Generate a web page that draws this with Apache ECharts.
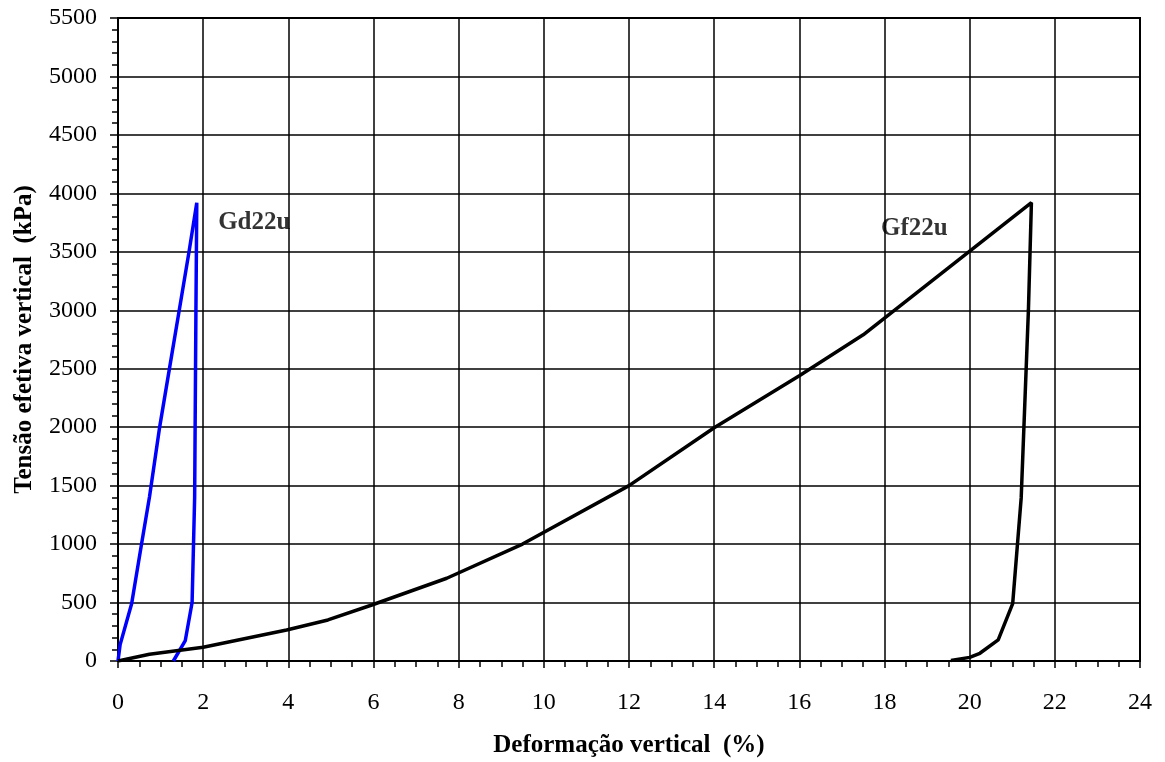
<!DOCTYPE html>
<html>
<head>
<meta charset="utf-8">
<script src="https://cdn.jsdelivr.net/npm/echarts@6/dist/echarts.min.js"></script>
<style>
  html, body { margin: 0; padding: 0; background: #fff; }
  #chart { width: 1165px; height: 762px; }
</style>
</head>
<body>
<div id="chart"></div>
<script>
// Oedometer curves: vertical strain (%) vs. vertical effective stress (kPa)
const gd22uStrain = [0, 0.05, 0.32, 0.55, 0.74, 0.98, 1.21, 1.44, 1.67, 1.85, 1.83, 1.80, 1.74, 1.58, 1.30];
const gd22uStress = [0, 140, 490, 995, 1405, 2005, 2505, 3005, 3505, 3920, 3000, 1400, 500, 175, 0];

const gf22uStrain = [0, 0.74, 2.0, 3.96, 4.93, 5.96, 7.72, 9.5, 12.0, 14.0, 16.0, 17.5, 21.45, 21.38, 21.21, 21.01, 20.67, 20.24, 20.0, 19.56];
const gf22uStress = [0, 57, 117, 265, 351, 479, 708, 1000, 1500, 1995, 2440, 2790, 3920, 3005, 1395, 490, 180, 66, 31, 5];

const seriesNames = ['Gd22u', 'Gf22u'];
const xTitle = 'Deformação vertical  (%)';
const yTitle = 'Tensão efetiva vertical  (kPa)';

function pairs(xs, ys) { return xs.map((x, i) => [x, ys[i]]); }

const serif = '"Liberation Serif", "DejaVu Serif", serif';
const chart = echarts.init(document.getElementById('chart'));

// curve names placed beside the peaks
const nameLabel = {
  show: true, position: 'inside',
  fontFamily: serif, fontWeight: 'bold', fontSize: 25, color: '#000'
};

chart.setOption({
  animation: false,
  backgroundColor: '#fff',
  grid: {
    left: 118, top: 18, right: 25, bottom: 101,
    containLabel: false, outerBoundsMode: 'none',
    show: true, borderColor: '#000', borderWidth: 2
  },
  xAxis: {
    type: 'value', min: 0, max: 24, interval: 2,
    name: xTitle, nameLocation: 'middle', nameGap: 72,
    nameTextStyle: { fontFamily: serif, fontWeight: 'bold', fontSize: 25, color: '#000' },
    axisLine: { show: true, onZero: false, lineStyle: { color: '#000', width: 2 } },
    axisTick: { show: true, inside: false, length: 7, lineStyle: { color: '#000', width: 1.5 } },
    minorTick: { show: true, splitNumber: 4, length: 6, lineStyle: { color: '#000', width: 1.5 } },
    axisLabel: { fontFamily: serif, fontSize: 24, color: '#000', margin: 30, formatter: v => String(v) },
    splitLine: { show: true, lineStyle: { color: '#000', width: 1.5 } }
  },
  yAxis: {
    type: 'value', min: 0, max: 5500, interval: 500,
    name: yTitle, nameLocation: 'middle', nameGap: 81, nameRotate: 90,
    nameTextStyle: { fontFamily: serif, fontWeight: 'bold', fontSize: 25, color: '#000' },
    axisLine: { show: true, lineStyle: { color: '#000', width: 2 } },
    axisTick: { show: true, inside: false, length: 8, lineStyle: { color: '#000', width: 1.5 } },
    minorTick: { show: true, splitNumber: 5, length: 6, lineStyle: { color: '#000', width: 1.5 } },
    axisLabel: { fontFamily: serif, fontSize: 24, color: '#000', margin: 21, formatter: v => String(v) },
    splitLine: { show: true, lineStyle: { color: '#000', width: 1.5 } }
  },
  series: [
    {
      name: seriesNames[0], type: 'line', data: pairs(gd22uStrain, gd22uStress),
      showSymbol: false, smooth: false,
      lineStyle: { color: '#0000ff', width: 3.5 }
    },
    {
      name: seriesNames[1], type: 'line', data: pairs(gf22uStrain, gf22uStress),
      showSymbol: false, smooth: false,
      lineStyle: { color: '#000', width: 3.5 }
    },
    {
      type: 'scatter', symbolSize: 1, itemStyle: { color: 'rgba(0,0,0,0)' },
      silent: true, z: 5,
      data: [
        { value: [3.2, 3750], label: Object.assign({ formatter: seriesNames[0] }, nameLabel) },
        { value: [18.7, 3700], label: Object.assign({ formatter: seriesNames[1] }, nameLabel) }
      ]
    }
  ]
});
</script>
</body>
</html>
